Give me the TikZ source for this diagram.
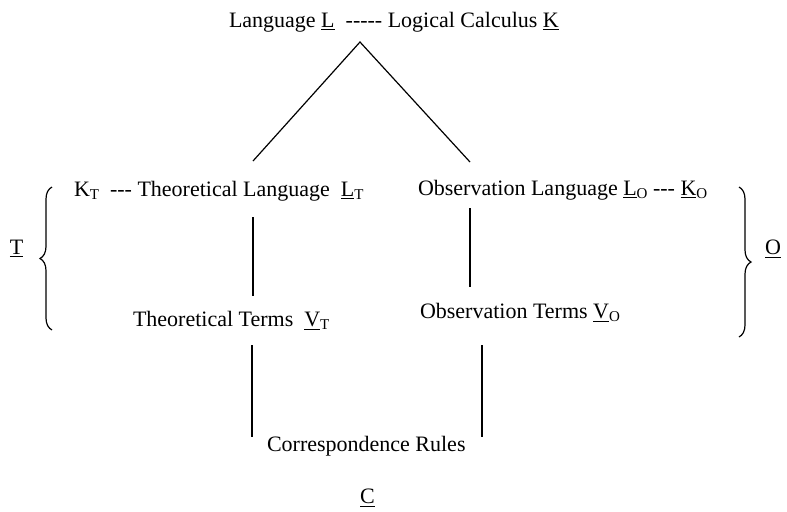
\documentclass[tikz,border=0pt]{standalone}
\usepackage{fontspec}
\setmainfont{Liberation Serif}
\usetikzlibrary{decorations.pathreplacing}
\newcommand\mysub[1]{\raisebox{-1.8pt}{\fontsize{7.5}{8}\selectfont #1}}
\begin{document}
\begin{tikzpicture}[x=0.5pt,y=-0.5pt,
  lbl/.style={anchor=base west,inner sep=0pt,outer sep=0pt,font=\fontsize{11}{13}\selectfont},
  conn/.style={line width=0.6pt},
  vline/.style={line width=0.8pt},
  bracestyle/.style={line width=0.6pt,decorate,decoration={brace,amplitude=6pt}}]
\useasboundingbox (0,0) rectangle (787,511);
\node[lbl] (top) at (229,27) {Language \underline{L}\ \ -{}-{}-{}-{}- Logical Calculus \underline{K}};
\node[lbl] (tl) at (74,196) {K\mysub{T}\ \ -{}-{}- Theoretical Language\ \ \underline{L}\mysub{T}};
\node[lbl] (ol) at (418,195) {Observation Language \underline{L}\mysub{O} -{}-{}- \underline{K}\mysub{O}};
\node[lbl] (tt) at (133,326) {Theoretical Terms\ \ \underline{V}\mysub{T}};
\node[lbl] (ot) at (420,318) {Observation Terms \underline{V}\mysub{O}};
\node[lbl] (cr) at (267,451) {Correspondence Rules};
\node[lbl] (c) at (360,503) {\underline{C}};
\node[lbl] (t) at (10,254) {\underline{T}};
\node[lbl] (o) at (765,254) {\underline{O}};
% connector end points
\coordinate (apex) at (360,42);
\coordinate (tlu) at (253,161);
\coordinate (olu) at (470,162);
\coordinate (tla) at (253,217);
\coordinate (tlb) at (253,296);
\coordinate (ola) at (470,208);
\coordinate (olb) at (470,287);
\coordinate (tta) at (252,345);
\coordinate (ttb) at (252,437);
\coordinate (ota) at (482,345);
\coordinate (otb) at (482,437);
\draw[conn] (tlu) -- (apex) -- (olu);
\draw[vline] (tla) -- (tlb);
\draw[vline] (ola) -- (olb);
\draw[vline] (tta) -- (ttb);
\draw[vline] (ota) -- (otb);
% braces
\coordinate (lbt) at (52,187);
\coordinate (lbb) at (52,330);
\coordinate (rbt) at (739,187);
\coordinate (rbb) at (739,337);
\draw[bracestyle] (lbb) -- (lbt);
\draw[bracestyle] (rbt) -- (rbb);
\end{tikzpicture}
\end{document}
